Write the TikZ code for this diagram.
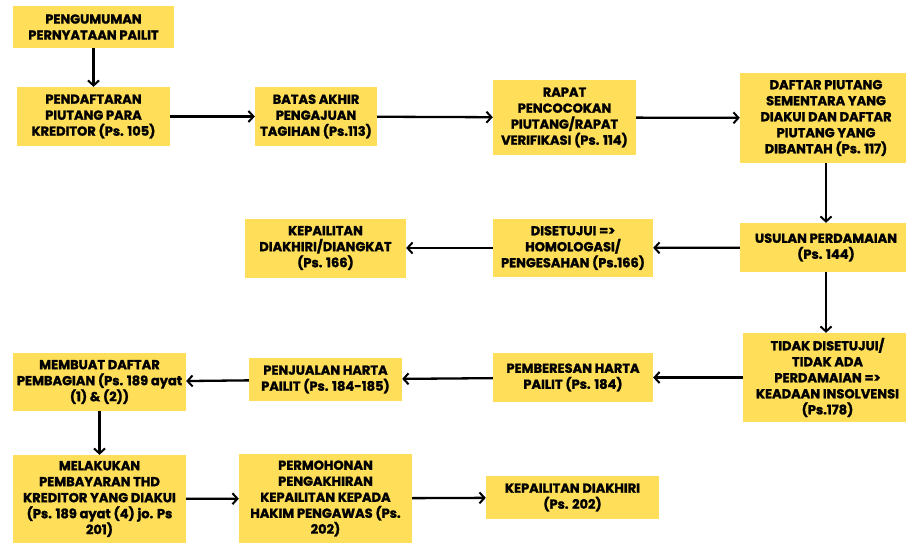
\documentclass[tikz,border=0pt]{standalone}
\usepackage{fontspec}
\setmainfont{Poppins}[BoldFeatures={FakeBold=1.5}]
\usetikzlibrary{arrows.meta}
\definecolor{boxy}{HTML}{FFDE59}
\begin{document}
\begin{tikzpicture}[x=1pt,y=-1pt,
  box/.style={fill=boxy, inner sep=0pt, align=center, text=black,
    font=\bfseries\fontsize{13}{16}\selectfont},
  arr/.style={-{Straight Barb[length=5pt,width=11pt,line width=2pt]}, line width=2.3pt, black}]
\clip (0,0) rectangle (906,543);
\fill[white] (0,0) rectangle (906,543);
% row 1
\node[box, minimum width=161pt, minimum height=42pt] (n1) at (93.5,27) {PENGUMUMAN\\PERNYATAAN PAILIT};
\node[box, minimum width=153pt, minimum height=59pt] (n2) at (93.5,116.5) {PENDAFTARAN\\PIUTANG PARA\\KREDITOR (Ps. 105)};
\node[box, minimum width=122pt, minimum height=59pt] (n3) at (316,116.5) {BATAS AKHIR\\PENGAJUAN\\TAGIHAN (Ps.113)};
\node[box, minimum width=143pt, minimum height=75pt] (n4) at (564.5,117.5) {RAPAT\\PENCOCOKAN\\PIUTANG/RAPAT\\VERIFIKASI (Ps. 114)};
\node[box, minimum width=172pt, minimum height=90pt] (n5) at (826,118) {DAFTAR PIUTANG\\SEMENTARA YANG\\DIAKUI DAN DAFTAR\\PIUTANG YANG\\DIBANTAH (Ps. 117)};
% row 2
\node[box, minimum width=172pt, minimum height=49pt] (n6) at (826,247.5) {USULAN PERDAMAIAN\\(Ps. 144)};
\node[box, minimum width=160pt, minimum height=58pt] (n7) at (573,248) {DISETUJUI =>\\HOMOLOGASI/\\PENGESAHAN (Ps.166)};
\node[box, minimum width=161pt, minimum height=59pt] (n8) at (325.5,248) {KEPAILITAN\\DIAKHIRI/DIANGKAT\\(Ps. 166)};
% row 3
\node[box, minimum width=169pt, minimum height=89pt] (n9) at (827.5,377.5) {TIDAK DISETUJUI/\\TIDAK ADA\\PERDAMAIAN =>\\KEADAAN INSOLVENSI\\(Ps.178)};
\node[box, minimum width=160pt, minimum height=49pt] (n10) at (573,377.5) {PEMBERESAN HARTA\\PAILIT (Ps. 184)};
\node[box, minimum width=153pt, minimum height=43pt] (n11) at (325.5,379.5) {PENJUALAN HARTA\\PAILIT (Ps. 184-185)};
\node[box, minimum width=173pt, minimum height=58pt] (n12) at (99.5,382) {MEMBUAT DAFTAR\\PEMBAGIAN (Ps. 189 ayat\\(1) \& (2))};
% row 4
\node[box, minimum width=173pt, minimum height=88pt] (n13) at (99.5,499) {MELAKUKAN\\PEMBAYARAN THD\\KREDITOR YANG DIAKUI\\(Ps. 189 ayat (4) jo. Ps\\201)};
\node[box, minimum width=173pt, minimum height=89pt] (n14) at (325.5,498.5) {PERMOHONAN\\PENGAKHIRAN\\KEPAILITAN KEPADA\\HAKIM PENGAWAS (Ps.\\202)};
\node[box, minimum width=173pt, minimum height=43pt] (n15) at (572.5,497.5) {KEPAILITAN DIAKHIRI\\(Ps. 202)};
% connectors
\draw[arr] (n1) -- (n2);
\draw[arr] (n2) -- (n3);
\draw[arr] (n3) -- (n4);
\draw[arr] (n4) -- (n5);
\draw[arr] (n5) -- (n6);
\draw[arr] (n6) -- (n7);
\draw[arr] (n7) -- (n8);
\draw[arr] (n6) -- (n6 |- n9.north);
\draw[arr] (n9) -- (n10);
\draw[arr] (n10) -- (n11);
\draw[arr] (n11) -- (n12);
\draw[arr] (n12) -- (n13);
\draw[arr] (n13) -- (n14);
\draw[arr] (n14) -- (n15);
\end{tikzpicture}
\end{document}
